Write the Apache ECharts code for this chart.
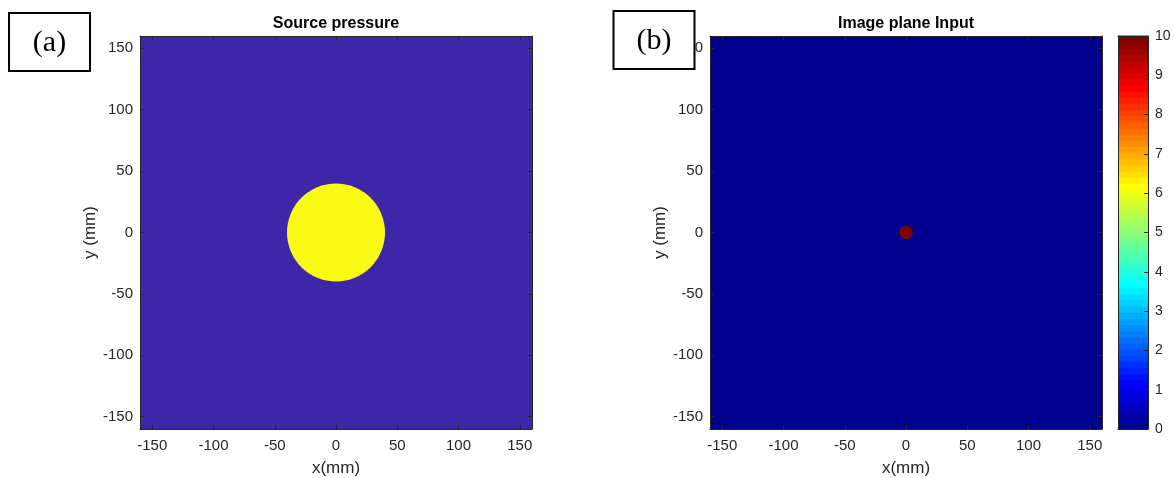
<!DOCTYPE html>
<html><head><meta charset="utf-8">
<script src="https://cdn.jsdelivr.net/npm/echarts@6/dist/echarts.min.js"></script>
<style>html,body{margin:0;padding:0;background:#fff}#c{width:1174px;height:478px}</style>
</head><body><div id="c"></div>
<script>
// ---- data ----
const axisRange = [-160, 160];                       // mm
const tickValues = [-150, -100, -50, 0, 50, 100, 150];
const colorbarRange = [0, 10];
const colorbarTicks = [0, 1, 2, 3, 4, 5, 6, 7, 8, 9, 10];
const sourceRange = [0, 1];
const sourceBackground = [[-160, 160, -160, 160, 0]]; // xmin, xmax, ymin, ymax, value
const sourceDisk = [[0, 0, 40, 1]];                   // cx, cy, radius (mm), value
const imageBackground = [[-160, 160, -160, 160, 0]];
const imageDot = [[0, 0, 5.5, 10]];
const panelTitles = ['Source pressure', 'Image plane Input'];
const panelTags = ['(a)', '(b)'];
const axisNames = ['x(mm)', 'y (mm)'];

// ---- colormaps ----
const parulaEnds = ['#3E26A8', '#F9FB15'];
function parula(v) {
  const t = (v - sourceRange[0]) / (sourceRange[1] - sourceRange[0]);
  return t >= 0.5 ? parulaEnds[1] : parulaEnds[0];
}
const JET_N = 64;
function jetRow(i) { // MATLAB jet(64), 1-based row i
  const u = k => (k >= 1 && k <= 16) ? k / 16 : (k >= 17 && k <= 31) ? 1 : (k >= 32 && k <= 47) ? (48 - k) / 16 : 0;
  const r = u(i - 24), g = u(i - 8), b = u(i + 8);
  const h = x => Math.round(x * 255).toString(16).padStart(2, '0');
  return '#' + h(r) + h(g) + h(b);
}
function jet(v) {
  const t = (v - colorbarRange[0]) / (colorbarRange[1] - colorbarRange[0]);
  const idx = Math.min(JET_N - 1, Math.max(0, Math.floor(t * JET_N)));
  return jetRow(idx + 1);
}
const colorLevels = Array.from({length: JET_N}, (_, i) => i);

// ---- styles ----
const FONT = "'Liberation Sans', Arial, Helvetica, sans-serif";
const AX = '#262626';
const grids = [
  {left: 140, top: 36, width: 392, height: 393, outerBoundsMode: 'none', containLabel: false},
  {left: 710, top: 36, width: 392, height: 393, outerBoundsMode: 'none', containLabel: false},
  {left: 1118, top: 36, width: 30, height: 393, outerBoundsMode: 'none', containLabel: false}
];

function mainX(gi, pos) {
  const bottom = pos === 'bottom';
  return {
    gridIndex: gi, type: 'value', position: pos, min: axisRange[0], max: axisRange[1], z: 5,
    name: bottom ? axisNames[0] : '', nameLocation: 'middle', nameGap: 31,
    nameTextStyle: {fontFamily: FONT, fontSize: 17, color: AX},
    axisLine: {show: true, onZero: false, lineStyle: {color: AX, width: 1}},
    axisTick: {show: true, inside: true, length: 4, customValues: tickValues, lineStyle: {color: AX}},
    axisLabel: {show: bottom, customValues: tickValues, margin: 9, fontFamily: FONT, fontSize: 15, color: AX},
    splitLine: {show: false}
  };
}
function mainY(gi, pos) {
  const left = pos === 'left';
  return {
    gridIndex: gi, type: 'value', position: pos, min: axisRange[0], max: axisRange[1], z: 5,
    name: left ? axisNames[1] : '', nameLocation: 'middle', nameGap: 41, nameRotate: 90,
    nameTextStyle: {fontFamily: FONT, fontSize: 17, color: AX},
    axisLine: {show: true, onZero: false, lineStyle: {color: AX, width: 1}},
    axisTick: {show: true, inside: true, length: 4, customValues: tickValues, lineStyle: {color: AX}},
    axisLabel: {show: left, customValues: tickValues, margin: 7, fontFamily: FONT, fontSize: 15, color: AX},
    splitLine: {show: false}
  };
}

const xAxes = [
  mainX(0, 'bottom'), mainX(0, 'top'), mainX(1, 'bottom'), mainX(1, 'top'),
  {gridIndex: 2, type: 'value', position: 'bottom', min: 0, max: 1, z: 5, axisLine: {show: true, onZero: false, lineStyle: {color: AX}}, axisTick: {show: false}, axisLabel: {show: false}, splitLine: {show: false}},
  {gridIndex: 2, type: 'value', position: 'top', min: 0, max: 1, z: 5, axisLine: {show: true, onZero: false, lineStyle: {color: AX}}, axisTick: {show: false}, axisLabel: {show: false}, splitLine: {show: false}}
];
const yAxes = [
  mainY(0, 'left'), mainY(0, 'right'), mainY(1, 'left'), mainY(1, 'right'),
  {gridIndex: 2, type: 'value', position: 'left', min: colorbarRange[0], max: colorbarRange[1], z: 5, axisLine: {show: true, onZero: false, lineStyle: {color: AX}}, axisTick: {show: false}, axisLabel: {show: false}, splitLine: {show: false}},
  {gridIndex: 2, type: 'value', position: 'right', min: colorbarRange[0], max: colorbarRange[1], z: 5,
   axisLine: {show: true, onZero: false, lineStyle: {color: AX}},
   axisTick: {show: true, inside: true, length: 4, customValues: colorbarTicks, lineStyle: {color: AX}},
   axisLabel: {show: true, customValues: colorbarTicks, margin: 7, fontFamily: FONT, fontSize: 14, color: AX},
   splitLine: {show: false}}
];

function rectSeries(xi, yi, data, cmap) {
  return {
    type: 'custom', xAxisIndex: xi, yAxisIndex: yi, data, silent: true, z: 1,
    renderItem(params, api) {
      const p0 = api.coord([api.value(0), api.value(3)]);
      const p1 = api.coord([api.value(1), api.value(2)]);
      return {type: 'rect', shape: {x: p0[0], y: p0[1], width: p1[0] - p0[0], height: p1[1] - p0[1]}, style: {fill: cmap(api.value(4))}};
    }
  };
}
function diskSeries(xi, yi, data, cmap) {
  return {
    type: 'custom', xAxisIndex: xi, yAxisIndex: yi, data, silent: true, z: 2,
    renderItem(params, api) {
      const c = api.coord([api.value(0), api.value(1)]);
      const r = api.size([api.value(2), 0])[0];
      return {type: 'circle', shape: {cx: c[0], cy: c[1], r}, style: {fill: cmap(api.value(3))}};
    }
  };
}
const colorbarSeries = {
  type: 'custom', xAxisIndex: 4, yAxisIndex: 5, data: colorLevels, silent: true, z: 1,
  renderItem(params, api) {
    const i = api.value(0);
    const span = colorbarRange[1] - colorbarRange[0];
    const lo = colorbarRange[0] + i * span / JET_N, hi = colorbarRange[0] + (i + 1) * span / JET_N;
    const p0 = api.coord([0, hi]);
    const p1 = api.coord([1, lo]);
    return {type: 'rect', shape: {x: p0[0], y: p0[1] - 0.5, width: p1[0] - p0[0], height: p1[1] - p0[1] + 1}, style: {fill: jetRow(i + 1)}};
  }
};

const tagBoxes = [
  {x: 9, y: 13, w: 81, h: 58},
  {x: 613.5, y: 11, w: 81, h: 58}
];
const graphic = [];
panelTitles.forEach((t, i) => {
  const g = grids[i];
  graphic.push({type: 'text', x: g.left + g.width / 2, y: 24, z: 10,
    style: {text: t, font: 'bold 16px ' + FONT, fill: '#000', align: 'center', verticalAlign: 'middle'}});
});
panelTags.forEach((t, i) => {
  const b = tagBoxes[i];
  graphic.push({type: 'rect', z: 20, shape: {x: b.x, y: b.y, width: b.w, height: b.h}, style: {fill: '#fff', stroke: '#000', lineWidth: 2}});
  graphic.push({type: 'text', z: 21, x: b.x + b.w / 2, y: b.y + b.h / 2 + 1,
    style: {text: t, font: "30px 'Liberation Serif', 'Times New Roman', serif", fill: '#000', align: 'center', verticalAlign: 'middle'}});
});

const chart = echarts.init(document.getElementById('c'), null, {renderer: 'canvas'});
chart.setOption({
  animation: false,
  backgroundColor: '#fff',
  grid: grids,
  xAxis: xAxes,
  yAxis: yAxes,
  series: [
    rectSeries(0, 0, sourceBackground, parula),
    diskSeries(0, 0, sourceDisk, parula),
    rectSeries(2, 2, imageBackground, jet),
    diskSeries(2, 2, imageDot, jet),
    colorbarSeries
  ],
  graphic
});
</script>
</body></html>
